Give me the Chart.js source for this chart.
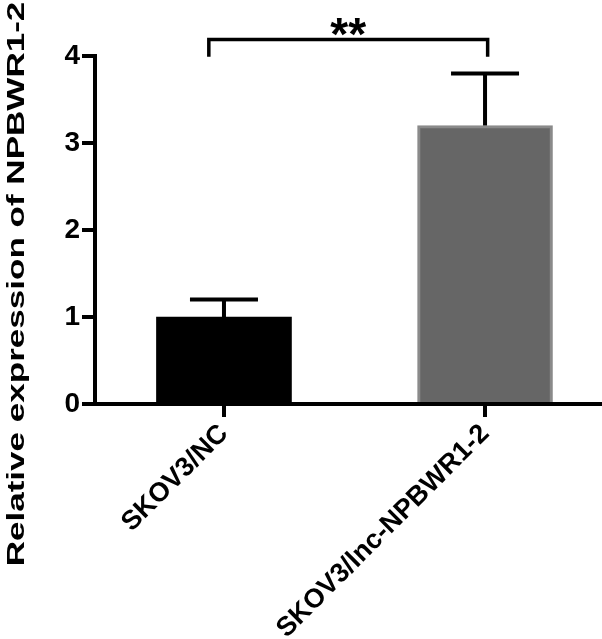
<!DOCTYPE html>
<html>
<head>
<meta charset="utf-8">
<script src="https://cdn.jsdelivr.net/npm/chart.js@4"></script>
<style>
  html, body { margin: 0; padding: 0; background: #fff; }
  #wrap { width: 602px; height: 639px; }
</style>
</head>
<body>
<div id="wrap"><canvas id="barChart" width="602" height="639"></canvas></div>
<script>
// values
const categories = ['SKOV3/NC', 'SKOV3/lnc-NPBWR1-2'];
const means = [1.0, 3.2];
const errors = [0.2, 0.6];
const yTicks = [0, 1, 2, 3, 4];
const sigLabel = '**';
const yTitle = 'Relative expression of NPBWR1-2';

const FONT = "'Liberation Sans', Arial, sans-serif";

// error bars (upper only), significance bracket and y title
const extras = {
  id: 'extras',
  afterDatasetsDraw(chart) {
    const ctx = chart.ctx;
    const x = chart.scales.x;
    const y = chart.scales.y;
    const meta = chart.getDatasetMeta(0);
    ctx.save();
    ctx.strokeStyle = '#000';
    ctx.lineWidth = 4;
    ctx.lineCap = 'butt';
    meta.data.forEach((bar, i) => {
      const top = y.getPixelForValue(means[i] + errors[i]);
      ctx.beginPath();
      ctx.moveTo(bar.x, bar.y);
      ctx.lineTo(bar.x, top);
      ctx.moveTo(bar.x - 34, top);
      ctx.lineTo(bar.x + 34, top);
      ctx.stroke();
    });

    // bracket between the two groups
    const bl = x.getPixelForValue(-0.058);
    const br = x.getPixelForValue(1.01);
    const bTop = y.getPixelForValue(4.19);
    const bBot = y.getPixelForValue(3.99);
    ctx.lineWidth = 3.5;
    ctx.beginPath();
    ctx.moveTo(bl, bBot);
    ctx.lineTo(bl, bTop);
    ctx.lineTo(br, bTop);
    ctx.lineTo(br, bBot);
    ctx.stroke();

    ctx.fillStyle = '#000';
    ctx.font = 'bold 46px ' + FONT;
    ctx.textAlign = 'center';
    ctx.textBaseline = 'alphabetic';
    ctx.fillText(sigLabel, (bl + br) / 2, 50);

    // y title, drawn stretched along its length like the original
    ctx.translate(17, 284);
    ctx.rotate(-Math.PI / 2);
    ctx.scale(1.46, 1);
    ctx.font = 'bold 24px ' + FONT;
    ctx.textBaseline = 'middle';
    ctx.fillText(yTitle, 0, 0);
    ctx.restore();
  }
};

new Chart(document.getElementById('barChart'), {
  type: 'bar',
  data: {
    datasets: [{
      data: means.map((v, i) => ({ x: i, y: v })),
      backgroundColor: ['#000000', '#666666'],
      borderColor: ['#000000', '#8a8a8a'],
      borderWidth: [0, 3],
      barThickness: 135
    }]
  },
  options: {
    responsive: false,
    animation: false,
    layout: { padding: { top: 56, right: 0, left: 0, bottom: 0 } },
    plugins: { legend: { display: false }, tooltip: { enabled: false } },
    scales: {
      x: {
        type: 'linear',
        offset: false,
        min: -0.494,
        max: 1.448,
        afterBuildTicks: s => { s.ticks = categories.map((c, i) => ({ value: i })); },
        afterFit: s => { s.height = 235; },
        grid: { offset: false, drawOnChartArea: false, tickLength: 13, lineWidth: 4, color: '#000' },
        border: { display: true, width: 4, color: '#000' },
        ticks: {
          callback: v => categories[v],
          minRotation: 45,
          maxRotation: 45,
          padding: 1,
          color: '#000',
          font: { family: FONT, size: 27, weight: 'bold' }
        }
      },
      y: {
        min: 0,
        max: 4,
        afterBuildTicks: s => { s.ticks = yTicks.map(v => ({ value: v })); },
        afterFit: s => { s.width = 95; },
        grid: { drawOnChartArea: false, tickLength: 13, lineWidth: 4, color: '#000' },
        border: { display: true, width: 4, color: '#000' },
        ticks: {
          padding: 2,
          color: '#000',
          font: { family: FONT, size: 28, weight: 'bold' }
        }
      }
    }
  },
  plugins: [extras]
});
</script>
</body>
</html>
